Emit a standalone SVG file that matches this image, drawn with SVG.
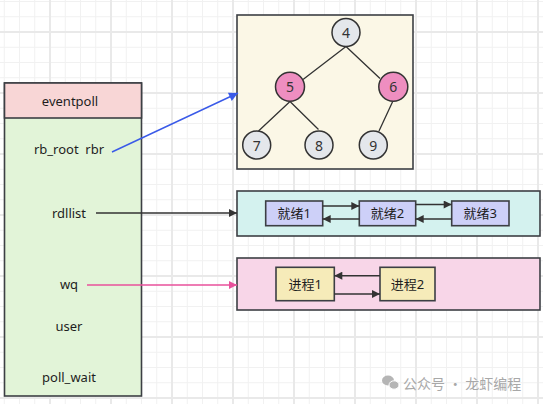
<svg xmlns="http://www.w3.org/2000/svg" width="543" height="404" viewBox="0 0 543 404">
<defs>
<pattern id="grid" patternUnits="userSpaceOnUse" x="-12" y="-30" width="61" height="61">
<path d="M16.25 0V61M31.5 0V61M46.75 0V61M0 16.25H61M0 31.5H61M0 46.75H61" stroke="#f1f1f1" stroke-width="1" fill="none"/>
<path d="M1 0V61M0 1H61" stroke="#e9e9e9" stroke-width="2" fill="none"/>
</pattern>
<marker id="ah" viewBox="0 0 10 10" refX="10" refY="5" markerWidth="10" markerHeight="8" markerUnits="userSpaceOnUse" orient="auto"><path d="M0 0L10 5L0 10Z" fill="#333"/></marker>
<marker id="ahb" viewBox="0 0 10 10" refX="10" refY="5" markerWidth="11" markerHeight="9" markerUnits="userSpaceOnUse" orient="auto"><path d="M0 0L10 5L0 10Z" fill="#3a5ae8"/></marker>
<marker id="ahp" viewBox="0 0 10 10" refX="10" refY="5" markerWidth="10" markerHeight="8" markerUnits="userSpaceOnUse" orient="auto"><path d="M0 0L10 5L0 10Z" fill="#e8509b"/></marker>
</defs>
<style>
.t{font-family:"Noto Sans","Noto Sans CJK SC",sans-serif;font-size:13px;fill:#1e1e1e;text-anchor:middle;dominant-baseline:central;white-space:pre}
.n{font-size:14px;fill:#333}
.box{stroke:#3c3f44;stroke-width:1.6}
.cir{stroke:#333;stroke-width:1.5}
.gray{fill:#e4e7eb}
.pink{fill:#ee8ec0}
.edge{stroke:#333;stroke-width:1.3;fill:none}
.ln{stroke:#333;stroke-width:1.6;fill:none;marker-end:url(#ah)}
.rd{fill:#cdd0f8}
.pr{fill:#f6ebb9}
.wm{font-family:"Noto Sans CJK SC",sans-serif;font-size:14px;fill:#a8a8a8;dominant-baseline:central;white-space:pre}
</style>
<rect width="543" height="404" fill="#fff"/>
<rect width="543" height="404" fill="url(#grid)"/>

<g id="eventpoll">
<rect x="4.5" y="83" width="137" height="313" fill="#e2f4d8" class="box"/>
<rect x="4.5" y="83" width="137" height="35" fill="#f8d6d6" class="box"/>
<text class="t" x="70" y="101">eventpoll</text>
<text class="t" x="69" y="149" xml:space="preserve">rb_root  rbr</text>
<text class="t" x="69" y="213">rdllist</text>
<text class="t" x="69" y="284">wq</text>
<text class="t" x="69" y="326">user</text>
<text class="t" x="69" y="377">poll_wait</text>
</g>

<g id="rbtree">
<rect x="237" y="15" width="176" height="154" fill="#fbf7e6" class="box"/>
<path class="edge" d="M346 46.5L303 79.5M346 46.5L380 78.5M290 101.5L258.5 131M290 101.5L318.5 129.5M392.7 101.5L379 131"/>
<g id="n4"><circle cx="346" cy="32.5" r="14" class="cir gray"/><text class="t n" x="346" y="32.5">4</text></g>
<g id="n5"><circle cx="290" cy="86.7" r="14.5" class="cir pink"/><text class="t n" x="290" y="86.7">5</text></g>
<g id="n6"><circle cx="393.3" cy="86.7" r="14.5" class="cir pink"/><text class="t n" x="393.3" y="86.7">6</text></g>
<g id="n7"><circle cx="256.7" cy="145" r="14" class="cir gray"/><text class="t n" x="256.7" y="145">7</text></g>
<g id="n8"><circle cx="319" cy="145" r="14" class="cir gray"/><text class="t n" x="319" y="145">8</text></g>
<g id="n9"><circle cx="373.3" cy="145" r="14" class="cir gray"/><text class="t n" x="373.3" y="145">9</text></g>
</g>

<g id="rdlist">
<rect x="237" y="191" width="303" height="45" fill="#d4f2ef" class="box"/>
<g id="r1"><rect x="265.7" y="201" width="57" height="24.7" class="box rd"/><text class="t" x="294.2" y="213.3">就绪1</text></g>
<g id="r2"><rect x="359.3" y="201" width="56.4" height="24.7" class="box rd"/><text class="t" x="387.5" y="213.3">就绪2</text></g>
<g id="r3"><rect x="451.7" y="201" width="57.3" height="24.7" class="box rd"/><text class="t" x="480.3" y="213.3">就绪3</text></g>
</g>

<g id="wqlist">
<rect x="237" y="258" width="303" height="52" fill="#f8d6e8" class="box"/>
<g id="p1"><rect x="276" y="267.3" width="58.3" height="33.4" class="box pr"/><text class="t" x="305.2" y="284">进程1</text></g>
<g id="p2"><rect x="380" y="267.3" width="55" height="33.4" class="box pr"/><text class="t" x="407.5" y="284">进程2</text></g>
</g>

<g id="connectors">
<line x1="112" y1="152" x2="238" y2="93" stroke="#3a5ae8" stroke-width="1.4" marker-end="url(#ahb)"/>
<line x1="96" y1="213" x2="237" y2="213" class="ln"/>
<line x1="87" y1="285" x2="237" y2="285" stroke="#e8509b" stroke-width="1.4" marker-end="url(#ahp)"/>
<line x1="322.7" y1="206" x2="359.3" y2="206" class="ln"/>
<line x1="359.3" y1="219" x2="322.7" y2="219" class="ln"/>
<line x1="415.7" y1="204.5" x2="451.7" y2="204.5" class="ln"/>
<line x1="451.7" y1="219" x2="415.7" y2="219" class="ln"/>
<line x1="380" y1="275.7" x2="334.3" y2="275.7" class="ln"/>
<line x1="334.3" y1="294" x2="380" y2="294" class="ln"/>
</g>

<g id="watermark">
<ellipse cx="388" cy="380.5" rx="6" ry="5" fill="#b5b5b5"/>
<ellipse cx="394" cy="385" rx="5" ry="4.2" fill="#b5b5b5" stroke="#fff" stroke-width="1"/>
<text class="wm" x="403" y="383">公众号 · 龙虾编程</text>
</g>
</svg>
